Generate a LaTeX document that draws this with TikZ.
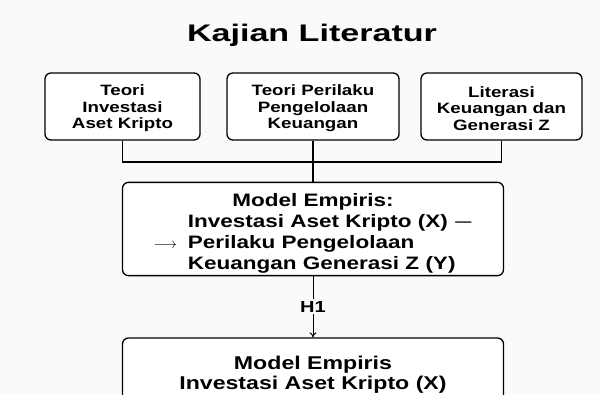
\documentclass[tikz,border=0pt]{standalone}
\usepackage{fontspec}
\setmainfont{Liberation Sans}[FakeStretch=1.25]
\newfontfamily\judulfont{Liberation Sans}[FakeStretch=1.42]
\newfontfamily\symfont{DejaVu Sans}
\usetikzlibrary{arrows.meta}
\usetikzlibrary{positioning}
\definecolor{latar}{HTML}{FAFAFA}
\newcommand{\atas}{\rule{0pt}{15pt}}

\begin{document}
\begin{tikzpicture}[x=1pt,y=-1pt,node distance=190pt,on grid,line width=1.3pt,
	kotak/.style={draw, rounded corners=6pt, fill=white, align=center, inner sep=0pt,
		font=\bfseries\fontsize{15}{16.5}\selectfont}]
	\useasboundingbox (0,0) rectangle (600,394);
	\fill[latar] (0,0) rectangle (600,394);
	\clip (0,0) rectangle (600,394);

	\node[font=\judulfont\bfseries\fontsize{24}{24}\selectfont] (judul) at (312,35) {Kajian Literatur};

	\node[kotak, minimum width=172pt, minimum height=67pt] (teori2) at (313,106.5) {\atas Teori Perilaku\\Pengelolaan\\Keuangan};
	\node[kotak, minimum width=155pt, minimum height=67pt] (teori1) [left=190.5pt of teori2] {\atas Teori\\Investasi\\Aset Kripto};
	\node[kotak, minimum width=161pt, minimum height=67pt] (teori3) [right=188.5pt of teori2] {\atas Literasi\\Keuangan dan\\Generasi Z};

	\node[kotak, minimum width=381pt, minimum height=92pt, font=\bfseries\fontsize{18}{20.8}\selectfont] (model) at (313,229)
		{\begin{tabular}{@{}r@{\hspace{11pt}}l@{}}
			\multicolumn{2}{c}{\rule{0pt}{24.6pt}Model Empiris:}\\
			& Investasi Aset Kripto (X) {\symfont\mdseries —}\\
			{\fontsize{14}{14}\selectfont$\longrightarrow$} & Perilaku Pengelolaan\\
			& Keuangan Generasi Z (Y)
		\end{tabular}};
	\node[kotak, minimum width=381pt, minimum height=66pt, font=\bfseries\fontsize{18.5}{20}\selectfont] (hasil) at (313,371)
		{\rule{0pt}{21pt}Model Empiris\\Investasi Aset Kripto (X)};

	\coordinate (simpul) at (313,162);
	\draw (teori1) |- (simpul) -| (teori3);
	\draw (teori2) -- (model);
	\draw[-{To[length=5pt,width=7pt]}, line width=1pt] (model) -- node[fill=latar, inner sep=2pt, font=\bfseries\fontsize{16}{16}\selectfont] {H1} (hasil);
\end{tikzpicture}
\end{document}
